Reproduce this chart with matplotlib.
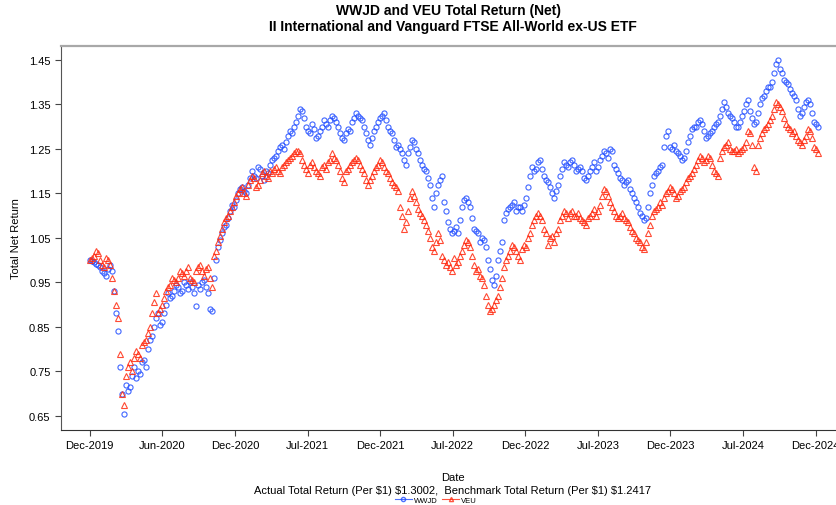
import numpy as np
import matplotlib.pyplot as plt

# WWJD and VEU total return (growth of $1).
# *_a: readings on a regular grid (about every 7 trading days, first = start, last = end)
# *_b: readings half-way between consecutive *_a readings
wwjd_a = [1.000, 0.995, 0.990, 0.975, 0.965, 0.990, 0.930, 0.840, 0.700, 0.720,
          0.715, 0.760, 0.750, 0.770, 0.760, 0.820, 0.850, 0.880, 0.860, 0.900,
          0.915, 0.930, 0.940, 0.930, 0.945, 0.950, 0.925, 0.945, 0.950, 0.940,
          0.890, 0.960, 1.030, 1.060, 1.080, 1.110, 1.120, 1.150, 1.165, 1.150,
          1.185, 1.190, 1.210, 1.190, 1.200, 1.215, 1.230, 1.245, 1.260, 1.265,
          1.290, 1.300, 1.325, 1.335, 1.300, 1.285, 1.295, 1.280, 1.300, 1.305,
          1.315, 1.320, 1.300, 1.275, 1.285, 1.290, 1.320, 1.325, 1.315, 1.285,
          1.260, 1.290, 1.310, 1.325, 1.315, 1.290, 1.270, 1.260, 1.240, 1.215,
          1.255, 1.265, 1.240, 1.215, 1.200, 1.170, 1.120, 1.170, 1.190, 1.110,
          1.070, 1.065, 1.060, 1.120, 1.140, 1.120, 1.070, 1.060, 1.050, 1.030,
          0.980, 0.945, 1.000, 1.040, 1.105, 1.120, 1.130, 1.120, 1.110, 1.140,
          1.190, 1.200, 1.220, 1.205, 1.180, 1.165, 1.140, 1.170, 1.205, 1.215,
          1.220, 1.215, 1.205, 1.200, 1.180, 1.200, 1.220, 1.210, 1.235, 1.240,
          1.250, 1.215, 1.195, 1.180, 1.175, 1.160, 1.140, 1.120, 1.100, 1.095,
          1.150, 1.190, 1.200, 1.215, 1.280, 1.255, 1.260, 1.240, 1.225, 1.245,
          1.280, 1.300, 1.310, 1.305, 1.275, 1.285, 1.300, 1.310, 1.340, 1.345,
          1.325, 1.310, 1.300, 1.325, 1.350, 1.335, 1.305, 1.330, 1.365, 1.380,
          1.390, 1.420, 1.450, 1.420, 1.400, 1.385, 1.370, 1.340, 1.330, 1.355,
          1.350, 1.310, 1.3002]

wwjd_b = [0.998, 0.992, 0.985, 0.970, 0.980, 0.975, 0.880, 0.760, 0.655, 0.705,
          0.740, 0.735, 0.745, 0.775, 0.800, 0.830, 0.870, 0.855, 0.880, 0.925,
          0.920, 0.945, 0.925, 0.950, 0.935, 0.940, 0.896, 0.935, 0.955, 0.925,
          0.885, 1.000, 1.045, 1.075, 1.095, 1.125, 1.135, 1.160, 1.155, 1.170,
          1.200, 1.185, 1.205, 1.180, 1.195, 1.225, 1.235, 1.255, 1.250, 1.280,
          1.285, 1.310, 1.340, 1.320, 1.290, 1.305, 1.275, 1.290, 1.315, 1.300,
          1.325, 1.310, 1.285, 1.270, 1.295, 1.310, 1.330, 1.320, 1.300, 1.270,
          1.275, 1.300, 1.320, 1.330, 1.300, 1.285, 1.255, 1.250, 1.225, 1.240,
          1.270, 1.250, 1.225, 1.205, 1.185, 1.140, 1.150, 1.180, 1.130, 1.085,
          1.060, 1.075, 1.090, 1.135, 1.130, 1.095, 1.065, 1.040, 1.045, 1.000,
          0.955, 0.965, 1.020, 1.090, 1.115, 1.125, 1.110, 1.120, 1.125, 1.165,
          1.210, 1.205, 1.225, 1.190, 1.175, 1.150, 1.155, 1.190, 1.220, 1.210,
          1.225, 1.200, 1.210, 1.185, 1.190, 1.210, 1.200, 1.225, 1.245, 1.230,
          1.245, 1.205, 1.185, 1.170, 1.180, 1.150, 1.130, 1.105, 1.090, 1.120,
          1.170, 1.195, 1.210, 1.255, 1.290, 1.250, 1.245, 1.235, 1.230, 1.265,
          1.295, 1.300, 1.315, 1.290, 1.280, 1.290, 1.305, 1.325, 1.355, 1.330,
          1.320, 1.300, 1.310, 1.335, 1.360, 1.320, 1.310, 1.350, 1.370, 1.390,
          1.400, 1.440, 1.430, 1.405, 1.395, 1.375, 1.360, 1.325, 1.345, 1.360,
          1.330, 1.305]

veu_a = [1.000, 1.010, 1.015, 0.990, 1.005, 0.990, 0.930, 0.870, 0.700, 0.740,
         0.770, 0.780, 0.790, 0.810, 0.820, 0.850, 0.905, 0.880, 0.900, 0.930,
         0.945, 0.955, 0.960, 0.970, 0.975, 0.960, 0.950, 0.985, 0.975, 0.980,
         0.960, 1.010, 1.040, 1.070, 1.095, 1.110, 1.130, 1.150, 1.165, 1.145,
         1.180, 1.185, 1.170, 1.195, 1.190, 1.200, 1.205, 1.200, 1.210, 1.220,
         1.230, 1.240, 1.245, 1.225, 1.205, 1.215, 1.210, 1.195, 1.210, 1.205,
         1.225, 1.230, 1.215, 1.185, 1.200, 1.215, 1.225, 1.225, 1.205, 1.180,
         1.180, 1.200, 1.215, 1.220, 1.200, 1.185, 1.170, 1.155, 1.100, 1.085,
         1.140, 1.145, 1.115, 1.100, 1.080, 1.050, 1.020, 1.060, 1.010, 0.990,
         0.985, 1.005, 0.995, 1.020, 1.045, 1.030, 0.990, 0.980, 0.960, 0.920,
         0.885, 0.900, 0.920, 0.960, 1.000, 1.020, 1.030, 1.010, 1.025, 1.030,
         1.060, 1.090, 1.105, 1.090, 1.060, 1.050, 1.040, 1.070, 1.100, 1.105,
         1.105, 1.100, 1.105, 1.090, 1.080, 1.100, 1.115, 1.110, 1.145, 1.155,
         1.130, 1.110, 1.095, 1.105, 1.090, 1.075, 1.060, 1.045, 1.030, 1.040,
         1.080, 1.110, 1.120, 1.125, 1.150, 1.165, 1.150, 1.145, 1.160, 1.175,
         1.190, 1.205, 1.225, 1.230, 1.225, 1.230, 1.200, 1.190, 1.245, 1.260,
         1.250, 1.245, 1.240, 1.250, 1.265, 1.285, 1.210, 1.260, 1.285, 1.300,
         1.315, 1.340, 1.350, 1.335, 1.305, 1.295, 1.290, 1.270, 1.260, 1.280,
         1.290, 1.255, 1.2417]

veu_b = [1.005, 1.020, 1.000, 0.985, 1.000, 0.960, 0.900, 0.790, 0.675, 0.760,
         0.750, 0.795, 0.780, 0.815, 0.835, 0.880, 0.925, 0.890, 0.915, 0.940,
         0.960, 0.950, 0.975, 0.965, 0.985, 0.955, 0.975, 0.990, 0.965, 0.985,
         0.940, 1.020, 1.055, 1.085, 1.100, 1.120, 1.145, 1.160, 1.150, 1.170,
         1.190, 1.165, 1.180, 1.200, 1.185, 1.195, 1.210, 1.195, 1.215, 1.225,
         1.235, 1.245, 1.240, 1.215, 1.195, 1.220, 1.200, 1.190, 1.215, 1.220,
         1.240, 1.225, 1.200, 1.175, 1.205, 1.220, 1.230, 1.215, 1.195, 1.170,
         1.190, 1.210, 1.225, 1.210, 1.195, 1.175, 1.165, 1.120, 1.070, 1.110,
         1.155, 1.130, 1.105, 1.090, 1.065, 1.030, 1.040, 1.045, 1.000, 0.995,
         0.975, 0.990, 1.010, 1.035, 1.040, 1.010, 0.975, 0.965, 0.945, 0.900,
         0.890, 0.910, 0.940, 0.985, 1.010, 1.035, 1.020, 1.000, 1.035, 1.050,
         1.080, 1.100, 1.100, 1.070, 1.035, 1.055, 1.060, 1.090, 1.110, 1.095,
         1.110, 1.100, 1.095, 1.085, 1.095, 1.105, 1.100, 1.125, 1.160, 1.145,
         1.120, 1.100, 1.100, 1.095, 1.085, 1.065, 1.050, 1.040, 1.025, 1.060,
         1.100, 1.115, 1.130, 1.140, 1.155, 1.160, 1.140, 1.155, 1.165, 1.185,
         1.195, 1.215, 1.235, 1.220, 1.235, 1.215, 1.195, 1.230, 1.255, 1.265,
         1.245, 1.250, 1.245, 1.255, 1.290, 1.260, 1.200, 1.275, 1.295, 1.305,
         1.325, 1.355, 1.345, 1.320, 1.300, 1.285, 1.280, 1.265, 1.270, 1.295,
         1.275, 1.250]

tick_labels = ['Dec-2019', 'Jun-2020', 'Dec-2020', 'Jul-2021', 'Dec-2021', 'Jul-2022',
               'Dec-2022', 'Jul-2023', 'Dec-2023', 'Jul-2024', 'Dec-2024']
y_ticks = [0.65, 0.75, 0.85, 0.95, 1.05, 1.15, 1.25, 1.35, 1.45]

n_days = 1264          # trading days covered
tick_step = 126        # trading days between date labels


def day_positions(a, b):
    xa = np.linspace(0, n_days, len(a))
    xb = (xa[:-1] + xa[1:]) / 2
    return np.concatenate([xa, xb[:len(b)]]), np.concatenate([a, b])


plt.rcParams['font.family'] = ['Liberation Sans', 'DejaVu Sans']

fig = plt.figure(figsize=(8.37, 5.06), dpi=100)
ax = fig.add_axes([61 / 837, 75 / 506, 784 / 837, 384 / 506])

blue = '#1f4cff'
red = '#ff2a10'
xw, yw = day_positions(wwjd_a, wwjd_b)
xv, yv = day_positions(veu_a, veu_b)
ax.plot(xw, yw, linestyle='none', marker='o', ms=3.7, mfc='none', mec=blue,
        mew=0.8, alpha=0.85, label='WWJD')
ax.plot(xv, yv, linestyle='none', marker='^', ms=4.2, mfc='none', mec=red,
        mew=0.8, alpha=0.85, label='VEU')

ax.set_xlim(-50, 1311)
ax.set_ylim(0.618, 1.4815)
ax.set_xticks(np.arange(len(tick_labels)) * tick_step)
ax.set_xticklabels(tick_labels)
ax.set_yticks(y_ticks)
ax.set_yticklabels([f'{v:.2f}' for v in y_ticks])
ax.tick_params(axis='both', labelsize=8, length=4, width=0.8, color='#444444', direction='out')

ax.spines['top'].set_color('#a8a8a8')
ax.spines['top'].set_linewidth(1.6)
ax.spines['right'].set_visible(False)
ax.spines['left'].set_color('#555555')
ax.spines['bottom'].set_color('#333333')

ax.set_ylabel('Total Net Return', fontsize=8, labelpad=6)

fig.text(449 / 837, 1 - 11 / 506, 'WWJD and VEU Total Return (Net)', ha='center', va='center',
         fontsize=10, fontweight='bold')
fig.text(453 / 837, 1 - 27 / 506, 'II International and Vanguard FTSE All-World ex-US ETF',
         ha='center', va='center', fontsize=10, fontweight='bold')
fig.text(453 / 837, 1 - 478 / 506, 'Date', ha='center', va='center', fontsize=8)
fig.text(453 / 837, 1 - 491 / 506,
         'Actual Total Return (Per \\$1) \\$1.3002,  Benchmark Total Return (Per \\$1) \\$1.2417',
         ha='center', va='center', fontsize=8)

h = [plt.Line2D([], [], color=blue, marker='o', mfc='none', ms=3, lw=0.8, alpha=0.8),
     plt.Line2D([], [], color=red, marker='^', mfc='none', ms=3, lw=0.8, alpha=0.8)]
fig.legend(h, ['WWJD', 'VEU'], loc='center', bbox_to_anchor=(436 / 837, 1 - 501 / 506),
           ncol=2, frameon=False, fontsize=5.5, handlelength=2.2, columnspacing=0.6,
           handletextpad=0.3, borderpad=0)

fig.savefig('out.png', dpi=100)
